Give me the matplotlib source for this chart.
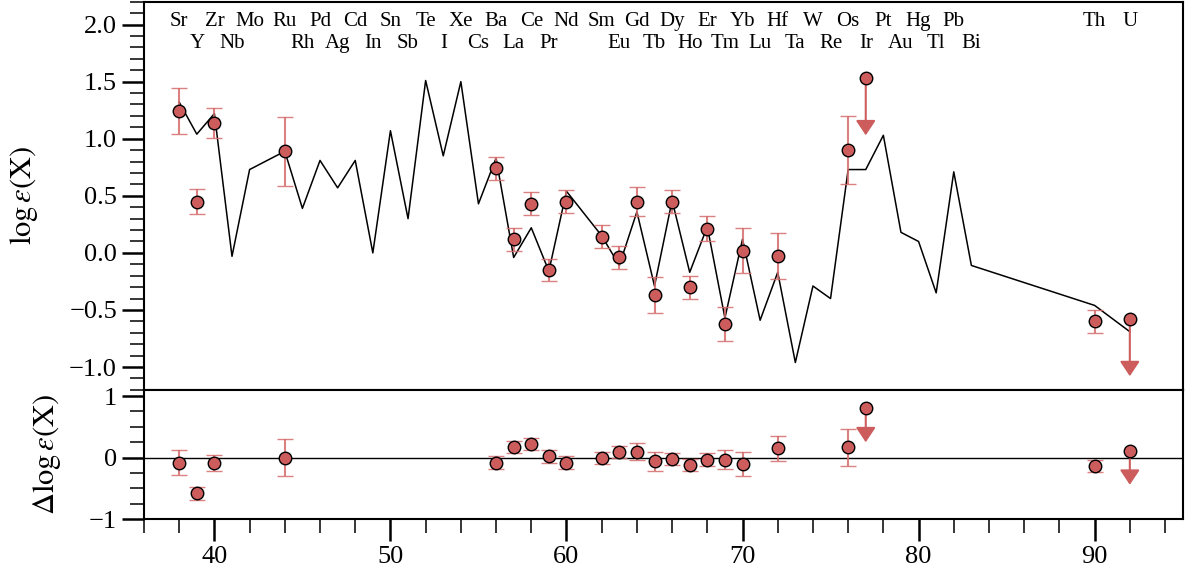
import matplotlib
matplotlib.use('Agg')
import matplotlib.pyplot as plt
from matplotlib.ticker import MultipleLocator, FuncFormatter
import matplotlib.transforms as mtransforms

plt.rcParams['font.family'] = ['Liberation Serif', 'DejaVu Serif']
plt.rcParams['mathtext.fontset'] = 'stix'

# scaled solar r-process pattern (black line)
model_z = [38, 39, 40, 41, 42, 44, 45, 46, 47, 48, 49, 50, 51, 52, 53, 54, 55, 56,
           57, 58, 59, 60, 62, 63, 64, 65, 66, 67, 68, 69, 70, 71, 72, 73, 74, 75,
           76, 77, 78, 79, 80, 81, 82, 83, 90, 92]
model_y = [1.32, 1.04, 1.22, -0.03, 0.73, 0.89, 0.39, 0.81, 0.57, 0.81, 0.00, 1.07,
           0.30, 1.51, 0.85, 1.50, 0.43, 0.83, -0.04, 0.22, -0.16, 0.54, 0.15, -0.11,
           0.36, -0.29, 0.46, -0.17, 0.23, -0.57, 0.12, -0.59, -0.17, -0.96, -0.29,
           -0.40, 0.73, 0.73, 1.03, 0.18, 0.10, -0.35, 0.71, -0.11, -0.46, -0.69]

# measured abundances
obs_z = [38, 39, 40, 44, 56, 57, 58, 59, 60, 62, 63, 64, 65, 66, 67, 68, 69, 70, 72, 76, 90]
obs_y = [1.24, 0.45, 1.14, 0.89, 0.74, 0.12, 0.43, -0.15, 0.45, 0.14, -0.04, 0.45,
         -0.37, 0.45, -0.30, 0.21, -0.62, 0.02, -0.03, 0.90, -0.60]
obs_err = [0.20, 0.11, 0.13, 0.30, 0.10, 0.10, 0.10, 0.10, 0.10, 0.10, 0.10, 0.13,
           0.16, 0.10, 0.10, 0.11, 0.15, 0.20, 0.20, 0.30, 0.10]
res_y = [-0.08, -0.58, -0.08, 0.00, -0.08, 0.17, 0.22, 0.02, -0.08, -0.01, 0.09, 0.10,
         -0.06, -0.02, -0.12, -0.03, -0.03, -0.10, 0.15, 0.17, -0.14]

# upper limits
ul_z = [77, 92]
ul_y = [1.53, -0.58]
ul_res = [0.80, 0.11]

# element labels
top_z = [38, 40, 42, 44, 46, 48, 50, 52, 54, 56, 58, 60, 62, 64, 66, 68, 70, 72, 74,
         76, 78, 80, 82, 90, 92]
top_names = ['Sr', 'Zr', 'Mo', 'Ru', 'Pd', 'Cd', 'Sn', 'Te', 'Xe', 'Ba', 'Ce', 'Nd',
             'Sm', 'Gd', 'Dy', 'Er', 'Yb', 'Hf', 'W', 'Os', 'Pt', 'Hg', 'Pb', 'Th', 'U']
bot_z = [39, 41, 45, 47, 49, 51, 53, 55, 57, 59, 63, 65, 67, 69, 71, 73, 75, 77, 79,
         81, 83]
bot_names = ['Y', 'Nb', 'Rh', 'Ag', 'In', 'Sb', 'I', 'Cs', 'La', 'Pr', 'Eu', 'Tb',
             'Ho', 'Tm', 'Lu', 'Ta', 'Re', 'Ir', 'Au', 'Tl', 'Bi']

red = '#cd5c5c'
ebar = (0.84, 0.42, 0.42, 0.85)

fig, (ax1, ax2) = plt.subplots(2, 1, figsize=(11.85, 5.78), dpi=100, sharex=True,
                               gridspec_kw={'height_ratios': [3, 1], 'hspace': 0})
fig.subplots_adjust(left=0.1215, right=0.998, top=0.997, bottom=0.1016)


def draw_points(ax, y, ul, arrow_len):
    ax.errorbar(obs_z, y, yerr=obs_err, fmt='o', ms=9, mfc=red, mec='black', mew=1,
                ecolor=ebar, elinewidth=1.5, capsize=6, capthick=1.5, zorder=3)
    ax.plot(ul_z, ul, 'o', ms=9, mfc=red, mec='black', mew=1, zorder=4)
    for z, v in zip(ul_z, ul):
        ax.annotate('', xy=(z, v - arrow_len), xytext=(z, v),
                    arrowprops=dict(arrowstyle='-|>,head_length=0.45,head_width=0.3',
                                    mutation_scale=20, color=ebar, fc=red, ec=red,
                                    lw=1.5, shrinkA=0, shrinkB=0), zorder=2)


ax1.plot(model_z, model_y, color='black', lw=1.1, zorder=1)
draw_points(ax1, obs_y, ul_y, 0.5)

trans = mtransforms.blended_transform_factory(ax1.transData, ax1.transAxes)
for z, name in zip(top_z, top_names):
    ax1.text(z, 0.937, name, transform=trans, ha='center', va='baseline', fontsize=15)
for z, name in zip(bot_z, bot_names):
    ax1.text(z, 0.880, name, transform=trans, ha='center', va='baseline', fontsize=15)

ax2.axhline(0, color='black', lw=1.0, zorder=1)
draw_points(ax2, res_y, ul_res, 0.55)

ax1.set_xlim(36, 95)
ax1.set_ylim(-1.2, 2.2)
ax2.set_ylim(-1.0, 1.1)

ax1.yaxis.set_major_locator(MultipleLocator(0.5))
ax1.yaxis.set_minor_locator(MultipleLocator(0.1))
ax1.yaxis.set_major_formatter(FuncFormatter(lambda v, _: f'{v:.1f}'.replace('-', '\u2212')))
ax2.yaxis.set_major_locator(MultipleLocator(1))
ax2.yaxis.set_minor_locator(MultipleLocator(0.25))
ax2.xaxis.set_major_locator(MultipleLocator(10))
ax2.xaxis.set_minor_locator(MultipleLocator(2))

for ax in (ax1, ax2):
    for s in ax.spines.values():
        s.set_linewidth(1.5)
    ax.tick_params(which='major', direction='out', length=16, width=1.8, labelsize=19)
    ax.tick_params(which='minor', direction='out', length=10, width=1.1)
    ax.tick_params(which='both', top=False, right=False)
ax1.tick_params(axis='x', which='both', bottom=False, labelbottom=False)

ax1.set_ylabel(r'$\log\epsilon(\mathrm{X})$', fontsize=22)
ax2.set_ylabel(r'$\Delta\log\epsilon(\mathrm{X})$', fontsize=22)
ax1.yaxis.set_label_coords(-0.1, 0.5)
ax2.yaxis.set_label_coords(-0.078, 0.5)

fig.savefig('out.png', dpi=100)
